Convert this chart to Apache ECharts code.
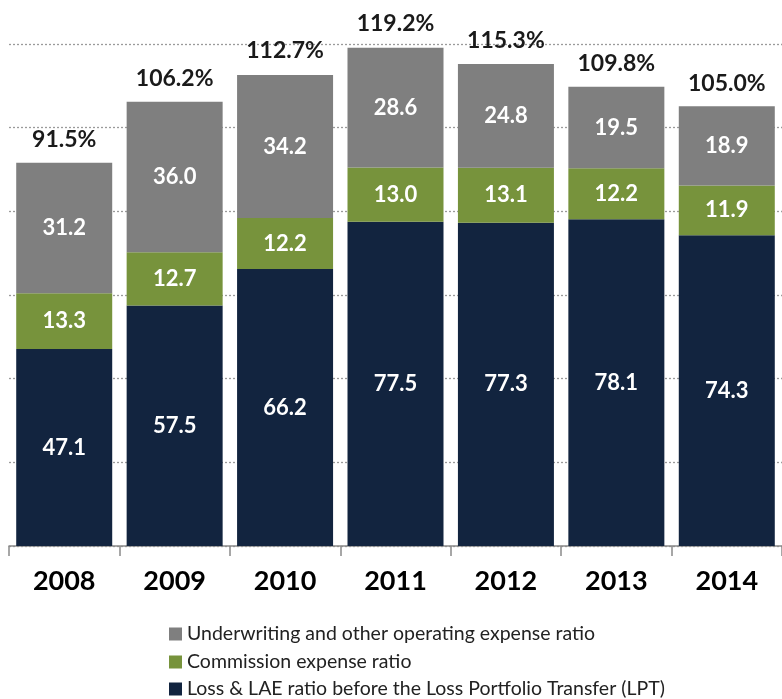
<!DOCTYPE html>
<html>
<head>
<meta charset="utf-8">
<script src="https://cdn.jsdelivr.net/npm/echarts@6/dist/echarts.min.js"></script>
<style>
  html, body { margin: 0; padding: 0; background: #fff; }
  #chart { width: 782px; height: 699px; }
</style>
</head>
<body>
<div id="chart"></div>
<script>
const years = ['2008', '2009', '2010', '2011', '2012', '2013', '2014']
const lossRatio = [47.1, 57.5, 66.2, 77.5, 77.3, 78.1, 74.3]
const commissionRatio = [13.3, 12.7, 12.2, 13.0, 13.1, 12.2, 11.9]
const underwritingRatio = [31.2, 36.0, 34.2, 28.6, 24.8, 19.5, 18.9]
const totals = [91.5, 106.2, 112.7, 119.2, 115.3, 109.8, 105.0]

const names = [
  'Underwriting and other operating expense ratio',
  'Commission expense ratio',
  'Loss & LAE ratio before the Loss Portfolio Transfer (LPT)'
]
const font = 'Lato, "Open Sans", sans-serif'

const innerLabel = {
  show: true,
  position: 'inside',
  color: '#fff',
  fontFamily: font,
  fontWeight: 'bold',
  fontSize: 22,
  formatter: p => p.value.toFixed(1)
}

// one legend per row so the block never wraps into columns
const legendTops = [619, 647, 674]
const legends = names.map((n, i) => ({
  data: [n],
  left: 164,
  top: legendTops[i],
  itemWidth: 13,
  itemHeight: 13,
  icon: 'rect',
  textStyle: { fontFamily: font, fontSize: 19.5, color: '#222' }
}))

const chart = echarts.init(document.getElementById('chart'))
chart.setOption({
  animation: false,
  grid: { left: 9, right: -11, top: 44, bottom: 153, containLabel: false },
  legend: legends,
  xAxis: {
    type: 'category',
    data: years,
    axisLine: { lineStyle: { color: '#8a8a8a', width: 1.5 } },
    axisTick: { show: true, length: 10, lineStyle: { color: '#8a8a8a', width: 1.5 } },
    axisLabel: { margin: 22, color: '#000', fontFamily: font, fontWeight: 'bold', fontSize: 27 }
  },
  yAxis: {
    type: 'value',
    min: 0,
    max: 120,
    interval: 20,
    axisLabel: { show: false },
    axisLine: { show: false },
    axisTick: { show: false },
    splitLine: { lineStyle: { type: [2, 2], color: '#9a9a9a', width: 1.3 } }
  },
  series: [
    {
      name: names[2], type: 'bar', stack: 'r', data: lossRatio, barWidth: 96,
      itemStyle: { color: '#12243f' }, label: innerLabel
    },
    {
      name: names[1], type: 'bar', stack: 'r', data: commissionRatio, barWidth: 96,
      itemStyle: { color: '#77933c' }, label: innerLabel
    },
    {
      name: names[0], type: 'bar', stack: 'r', data: underwritingRatio, barWidth: 96,
      itemStyle: { color: '#7f7f7f' }, label: innerLabel
    },
    {
      name: 'total', type: 'bar', data: totals, barWidth: 96, barGap: '-100%', z: 1,
      itemStyle: { color: 'transparent' },
      label: {
        show: true, position: 'top', distance: 12, color: '#1a1a1a',
        fontFamily: font, fontWeight: 'bold', fontSize: 23,
        formatter: p => p.value.toFixed(1) + '%'
      }
    }
  ]
})
</script>
</body>
</html>
